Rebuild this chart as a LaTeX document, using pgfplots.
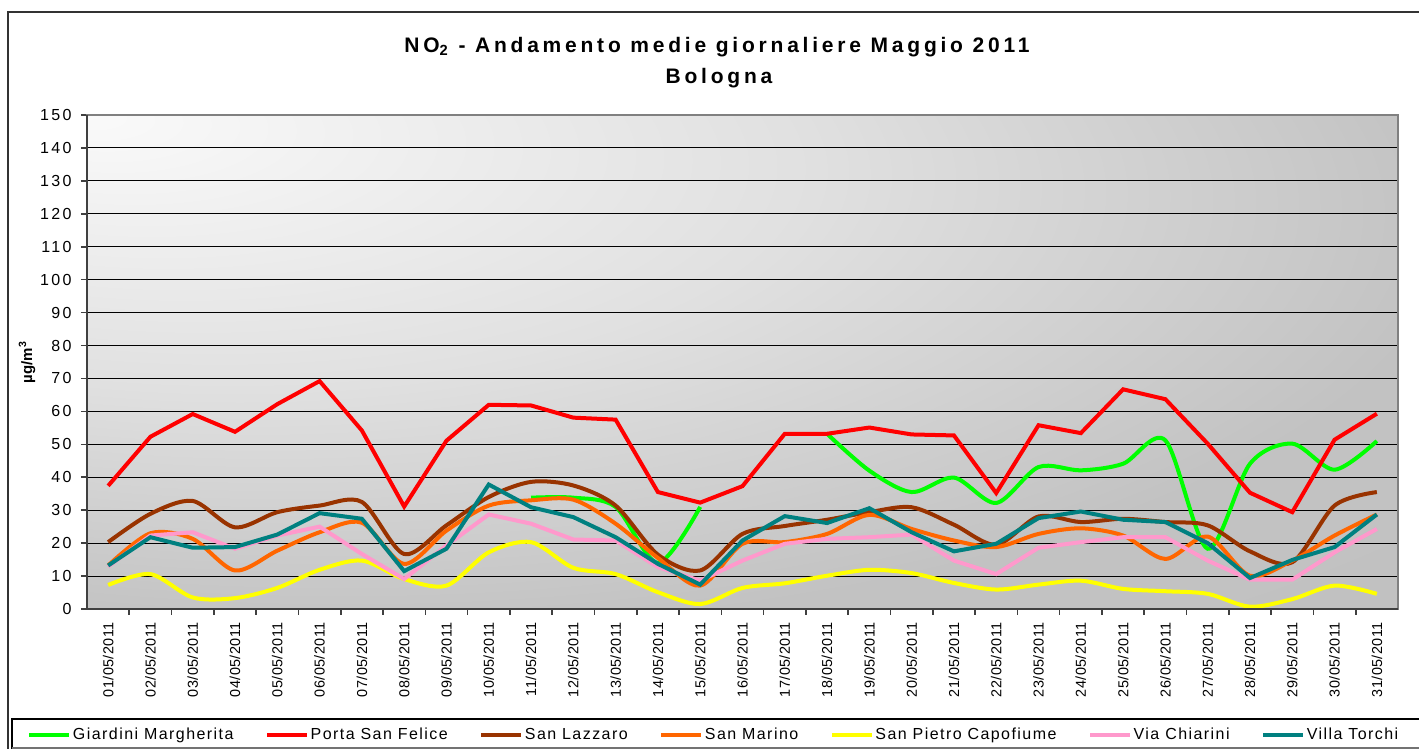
\documentclass[border=0pt]{standalone}
\usepackage{fontspec}
\setmainfont{Liberation Sans}
\usepackage{pgfplots}
\pgfplotsset{compat=1.18}
\newfontfamily\tickyf[LetterSpace=15]{Liberation Sans}
\newfontfamily\tickxf[LetterSpace=3]{Liberation Sans}
\newfontfamily\legf[LetterSpace=9]{Liberation Sans}
\newfontfamily\titf[LetterSpace=18]{Liberation Sans}
\definecolor{cgreen}{HTML}{00FF00}
\definecolor{cred}{HTML}{FF0000}
\definecolor{cbrown}{HTML}{993300}
\definecolor{corange}{HTML}{FF6600}
\definecolor{cyellow}{HTML}{FFFF00}
\definecolor{cpink}{HTML}{FF99CC}
\definecolor{cteal}{HTML}{008080}
\pgfdeclareradialshading{excelbg}{\pgfpoint{-25bp}{25bp}}{color(0bp)=(white!98!black); color(22bp)=(white!88!black); color(42bp)=(white!76!black); color(100bp)=(white!75!black)}
\begin{document}
\begin{tikzpicture}
\useasboundingbox (0,0) rectangle (709.5pt,374.5pt);
% outer frame
\draw[black!80, line width=1pt] (4pt,-5pt) -- (4pt,368.5pt) -- (715pt,368.5pt);
% legend frame
\draw[black, line width=0.6pt] (6pt,-5pt) -- (6pt,15pt) -- (715pt,15pt);
\draw[black!55, line width=1.2pt] (6pt,0.4pt) -- (715pt,0.4pt);
\node[font=\titf\bfseries\fontsize{10.5}{12}\selectfont] at (358.5pt,351pt) {NO\textsubscript{2} - Andamento medie giornaliere Maggio 2011};
\node[font=\titf\bfseries\fontsize{10.5}{12}\selectfont] at (359.5pt,335.5pt) {Bologna};
\begin{axis}[
  at={(43.5pt,70pt)}, anchor=south west,
  scale only axis, width=655.5pt, height=247pt,
  xmin=0.5, xmax=31.5, ymin=0, ymax=150,
  axis background/.style={shade, shading=excelbg},
  axis line style={draw=black!50, line width=1pt},
  ytick={0,10,...,150},
  ymajorgrids, grid style={black, line width=0.5pt},
  tick align=outside, xtick pos=bottom, ytick pos=left,
  major tick length=3pt, minor tick length=3pt,
  xtick={1,...,31},
  xticklabels={01/05/2011,02/05/2011,03/05/2011,04/05/2011,05/05/2011,06/05/2011,07/05/2011,08/05/2011,09/05/2011,10/05/2011,11/05/2011,12/05/2011,13/05/2011,14/05/2011,15/05/2011,16/05/2011,17/05/2011,18/05/2011,19/05/2011,20/05/2011,21/05/2011,22/05/2011,23/05/2011,24/05/2011,25/05/2011,26/05/2011,27/05/2011,28/05/2011,29/05/2011,30/05/2011,31/05/2011},
  minor xtick={1.5,2.5,...,30.5},
  x tick style={draw=none},
  minor x tick style={draw=black!75, line width=0.8pt},
  y tick style={draw=black!75, line width=0.8pt},
  xticklabel style={rotate=90, anchor=east, inner sep=0pt, font=\tickxf\fontsize{7.2}{8}\selectfont},
  xticklabel shift=3.5pt,
  yticklabel style={inner sep=0pt, font=\tickyf\fontsize{8}{9}\selectfont},
  yticklabel shift=4.5pt,
  /pgf/number format/assume math mode=true,
  ylabel={\bfseries µg/m\textsuperscript{3}},
  every axis y label/.style={at={(rel axis cs:0,0.5)}, xshift=-30pt, rotate=90, font=\fontsize{7.5}{9}\selectfont},
  legend columns=7,
  legend style={at={(rel axis cs:0,0)}, anchor=west, xshift=-30pt, yshift=-63pt, draw=none, fill=none, inner sep=0pt,
    font=\legf\fontsize{8}{10}\selectfont,
    /tikz/every even column/.append style={column sep=15pt},
    nodes={inner sep=0.8pt}},
  legend image code/.code={\draw[#1, line width=2pt] (0pt,0pt) -- (20pt,0pt);},
  every axis plot/.append style={line width=2pt},
  after end axis/.code={\draw[black!75, line width=1pt] (rel axis cs:0,1) -- (rel axis cs:0,0) -- (rel axis cs:1,0);},
]
\addplot[cgreen, smooth] coordinates {(11,33.8) (12,33.8) (13,31.0) (14,14.0) (15,31.0)};
\addlegendentry{Giardini Margherita}
\addplot[cgreen, smooth, forget plot] coordinates {(18,53.2) (19,42.0) (20,35.5) (21,39.9) (22,32.2) (23,43.1) (24,42.1) (25,44.1) (26,51.2) (27,18.3) (28,44.1) (29,50.2) (30,42.3) (31,51.0)};
\addplot[cred] coordinates {(1,37.4) (2,52.3) (3,59.2) (4,53.8) (5,62.2) (6,69.2) (7,54.2) (8,31.1) (9,51.1) (10,62.0) (11,61.8) (12,58.1) (13,57.5) (14,35.5) (15,32.3) (16,37.3) (17,53.2) (18,53.2) (19,55.1) (20,53.0) (21,52.7) (22,35.2) (23,55.8) (24,53.4) (25,66.7) (26,63.7) (27,50.2) (28,35.3) (29,29.4) (30,51.4) (31,59.3)};
\addlegendentry{Porta San Felice}
\addplot[cbrown, smooth] coordinates {(1,20.3) (2,28.9) (3,32.8) (4,24.8) (5,29.4) (6,31.4) (7,32.5) (8,16.7) (9,25.4) (10,34.0) (11,38.6) (12,37.5) (13,31.4) (14,16.5) (15,11.7) (16,22.8) (17,25.2) (18,27.1) (19,29.4) (20,30.9) (21,25.6) (22,19.5) (23,28.1) (24,26.4) (25,27.4) (26,26.4) (27,25.4) (28,17.5) (29,14.2) (30,31.4) (31,35.5)};
\addlegendentry{San Lazzaro}
\addplot[corange, smooth] coordinates {(1,13.2) (2,23.0) (3,21.3) (4,11.7) (5,17.7) (6,23.3) (7,26.2) (8,13.7) (9,23.8) (10,31.4) (11,33.0) (12,33.2) (13,25.9) (14,15.5) (15,7.1) (16,19.8) (17,20.3) (18,22.8) (19,28.6) (20,24.3) (21,20.8) (22,18.8) (23,22.8) (24,24.5) (25,22.3) (26,15.2) (27,22.0) (28,10.1) (29,14.7) (30,22.3) (31,28.7)};
\addlegendentry{San Marino}
\addplot[cyellow, smooth] coordinates {(1,7.3) (2,10.6) (3,3.5) (4,3.3) (5,6.4) (6,11.9) (7,14.7) (8,9.1) (9,7.1) (10,17.2) (11,20.3) (12,12.5) (13,10.6) (14,5.1) (15,1.5) (16,6.4) (17,7.8) (18,10.1) (19,11.9) (20,10.9) (21,7.9) (22,5.9) (23,7.4) (24,8.6) (25,6.1) (26,5.4) (27,4.6) (28,0.7) (29,3.0) (30,7.1) (31,4.6)};
\addlegendentry{San Pietro Capofiume}
\addplot[cpink] coordinates {(1,12.9) (2,22.3) (3,23.3) (4,18.3) (5,22.3) (6,25.0) (7,16.7) (8,9.1) (9,19.3) (10,28.7) (11,25.9) (12,21.1) (13,20.8) (14,12.7) (15,8.6) (16,14.7) (17,19.8) (18,21.3) (19,21.8) (20,22.6) (21,14.7) (22,10.6) (23,18.6) (24,20.3) (25,21.8) (26,21.8) (27,14.7) (28,8.9) (29,8.9) (30,17.2) (31,24.3)};
\addlegendentry{Via Chiarini}
\addplot[cteal] coordinates {(1,13.2) (2,21.8) (3,18.6) (4,18.8) (5,22.6) (6,29.1) (7,27.4) (8,11.5) (9,18.3) (10,37.8) (11,30.9) (12,27.9) (13,21.8) (14,13.7) (15,7.4) (16,20.8) (17,28.2) (18,26.1) (19,30.6) (20,23.3) (21,17.5) (22,19.8) (23,27.6) (24,29.6) (25,27.1) (26,26.4) (27,20.0) (28,9.4) (29,14.9) (30,18.8) (31,28.7)};
\addlegendentry{Villa Torchi}
\end{axis}
\end{tikzpicture}
\end{document}
